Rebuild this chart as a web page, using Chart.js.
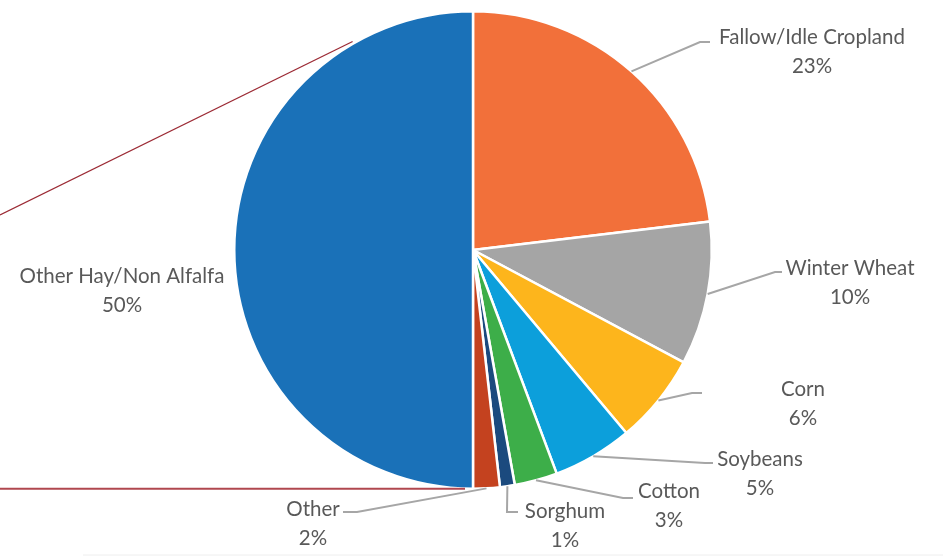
<!DOCTYPE html>
<html>
<head>
<meta charset="utf-8">
<script src="https://cdn.jsdelivr.net/npm/chart.js@4.4.0/dist/chart.umd.min.js"></script>
<style>
  html, body { margin: 0; padding: 0; background: #fff; }
  #wrap { width: 943px; height: 556px; position: relative; }
</style>
</head>
<body>
<div id="wrap"><canvas id="cropPie" width="943" height="556"></canvas></div>
<script>
// données (en %)
const categories = ['Fallow/Idle Cropland', 'Winter Wheat', 'Corn', 'Soybeans', 'Cotton', 'Sorghum', 'Other', 'Other Hay/Non Alfalfa'];
const shares = [23.1, 9.7, 6.1, 5.4, 2.9, 1.0, 1.8, 50.0];
const sliceColors = ['#F2703A', '#A5A5A5', '#FDB51C', '#0C9FDB', '#3DAE49', '#1B4A7E', '#C4421F', '#1A71B8'];

// placement des étiquettes (décalages en px depuis le centre du camembert)
const labelPos = [
    [339, -213], [377, 18], [330, 139], [287, 209], [196, 241], [92, 261], [-160, 259], [-351, 26]
];
// coude et fin des traits de rappel (null = pas de trait)
const leaderPts = [
    [[227, -208], [237, -208]],
    [[302, 22], [309, 22]],
    [[219, 143], [229, 143]],
    [[232, 213], [240, 213]],
    [[150, 248], [160, 248]],
    [[34, 262], [45, 262]],
    [[-116, 262], [-130, 262]],
    null
];

const leaderPlugin = {
    id: 'leaders',
    afterDatasetsDraw(chart) {
        const ctx = chart.ctx;
        const arcs = chart.getDatasetMeta(0).data;
        ctx.save();
        arcs.forEach((arc, i) => {
            const cx = arc.x, cy = arc.y, r = arc.outerRadius;
            const mid = (arc.startAngle + arc.endAngle) / 2;
            // trait de rappel
            if (leaderPts[i]) {
                ctx.strokeStyle = '#A6A6A6';
                ctx.lineWidth = 2;
                ctx.beginPath();
                ctx.moveTo(cx + r * Math.cos(mid), cy + r * Math.sin(mid));
                ctx.lineTo(cx + leaderPts[i][0][0], cy + leaderPts[i][0][1]);
                ctx.lineTo(cx + leaderPts[i][1][0], cy + leaderPts[i][1][1]);
                ctx.stroke();
            }
            // étiquette
            ctx.fillStyle = '#595959';
            ctx.font = '20.5px Lato, "Open Sans", sans-serif';
            ctx.textAlign = 'center';
            ctx.textBaseline = 'middle';
            const lx = cx + labelPos[i][0], ly = cy + labelPos[i][1];
            ctx.fillText(categories[i], lx, ly);
            ctx.fillText(Math.round(shares[i]) + '%', lx, ly + 29);
        });

        // restes du zoom (traits rouges vers la gauche)
        const a0 = arcs[0];
        const ang = -Math.PI / 2 - Math.PI / 6;
        ctx.strokeStyle = '#9C2B35';
        ctx.lineWidth = 1.3;
        ctx.beginPath();
        ctx.moveTo(a0.x + (a0.outerRadius + 2) * Math.cos(ang), a0.y + (a0.outerRadius + 2) * Math.sin(ang));
        ctx.lineTo(0, 215);
        ctx.stroke();
        ctx.strokeStyle = '#B0474F';
        ctx.lineWidth = 1.8;
        ctx.beginPath();
        ctx.moveTo(0, a0.y + a0.outerRadius);
        ctx.lineTo(a0.x - 8, a0.y + a0.outerRadius);
        ctx.stroke();
        ctx.strokeStyle = '#EEEEEE';
        ctx.lineWidth = 1;
        ctx.beginPath();
        ctx.moveTo(83, 555);
        ctx.lineTo(943, 555);
        ctx.stroke();
        ctx.restore();
    }
};

new Chart(document.getElementById('cropPie'), {
    type: 'pie',
    data: {
        labels: categories,
        datasets: [{
            data: shares,
            backgroundColor: sliceColors,
            borderColor: '#FFFFFF',
            borderWidth: 2.5
        }]
    },
    options: {
        responsive: false,
        animation: false,
        layout: {
            padding: { left: 233, right: 230, top: 10, bottom: 66 }
        },
        plugins: {
            legend: { display: false },
            tooltip: { enabled: false }
        }
    },
    plugins: [leaderPlugin]
});
</script>
</body>
</html>
